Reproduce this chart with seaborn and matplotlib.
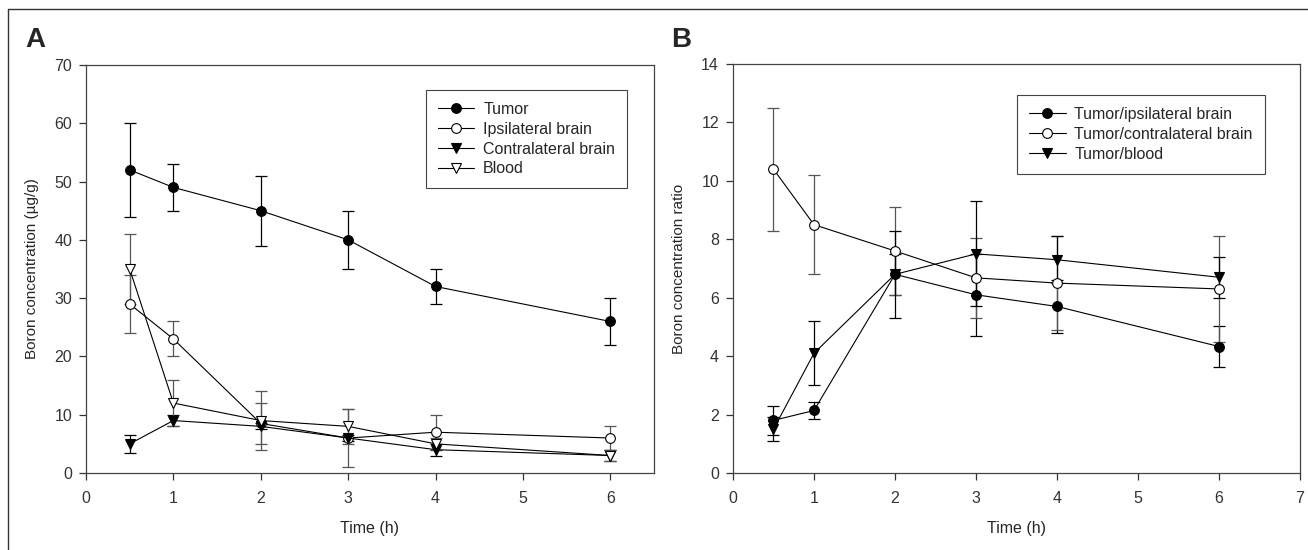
import numpy as np
import pandas as pd
import matplotlib
matplotlib.use("Agg")
import matplotlib.pyplot as plt
from matplotlib.lines import Line2D
import seaborn as sns

# ---- data ----
time_a = [0.5, 1, 2, 3, 4, 6]
tumor = [52, 49, 45, 40, 32, 26]
tumor_err = [8, 4, 6, 5, 3, 4]
ipsi = [29, 23, 8.5, 6, 7, 6]
ipsi_err = [5, 3, 3.5, 5, 3, 2]
contra = [5, 9, 8, 6, 4, 3]
contra_err = [1.5, 1, 0.5, 0.5, 1, 1]
blood = [35, 12, 9, 8, 5, 3]
blood_err = [6, 4, 5, 3, 1, 1]

time_b = [0.5, 1, 2, 3, 4, 6]
ratio_ipsi = [1.8, 2.14, 6.8, 6.1, 5.7, 4.33]
ratio_ipsi_err = [0.5, 0.3, 0.7, 1.4, 0.9, 0.7]
ratio_contra = [10.4, 8.5, 7.6, 6.68, 6.5, 6.3]
ratio_contra_err = [2.1, 1.7, 1.5, 1.38, 1.6, 1.8]
ratio_blood = [1.5, 4.1, 6.8, 7.5, 7.3, 6.7]
ratio_blood_err = [0.4, 1.1, 1.5, 1.8, 0.8, 0.7]

sns.set_style("ticks")
plt.rcParams['font.family'] = ['Liberation Sans', 'DejaVu Sans']
plt.rcParams['axes.edgecolor'] = '#444444'
plt.rcParams['axes.linewidth'] = 0.9

fig = plt.figure(figsize=(13.08, 5.5), dpi=100)
ax1 = fig.add_axes([86 / 1308, 77 / 550, 568 / 1308, 408 / 550])
ax2 = fig.add_axes([733 / 1308, 77 / 550, 567 / 1308, 409 / 550])

# marker styles: (marker, face colour, errorbar colour)
styles = {
    'filled_circle': ('o', 'black', 'black'),
    'open_circle': ('o', 'white', '#555555'),
    'filled_tri': ('v', 'black', 'black'),
    'open_tri': ('v', 'white', '#555555'),
}


def draw_series(ax, x, y, err, label, style):
    marker, face, ecol = styles[style]
    df = pd.DataFrame({'x': x, 'y': y})
    ax.errorbar(x, y, yerr=err, fmt='none', ecolor=ecol, elinewidth=0.9,
                capsize=4.5, capthick=0.9, zorder=2)
    sns.lineplot(data=df, x='x', y='y', ax=ax, color='black', lw=0.8,
                 marker=marker, markersize=7, markerfacecolor=face,
                 markeredgecolor='black', markeredgewidth=0.8,
                 label=label, zorder=3)


draw_series(ax1, time_a, tumor, tumor_err, 'Tumor', 'filled_circle')
draw_series(ax1, time_a, ipsi, ipsi_err, 'Ipsilateral brain', 'open_circle')
draw_series(ax1, time_a, contra, contra_err, 'Contralateral brain', 'filled_tri')
draw_series(ax1, time_a, blood, blood_err, 'Blood', 'open_tri')

draw_series(ax2, time_b, ratio_ipsi, ratio_ipsi_err, 'Tumor/ipsilateral brain', 'filled_circle')
draw_series(ax2, time_b, ratio_contra, ratio_contra_err, 'Tumor/contralateral brain', 'open_circle')
draw_series(ax2, time_b, ratio_blood, ratio_blood_err, 'Tumor/blood', 'filled_tri')

ax1.set_xlim(0, 6.5)
ax1.set_ylim(0, 70)
ax1.set_xticks(range(0, 7))
ax1.set_yticks(range(0, 71, 10))
ax1.set_ylabel('Boron concentration (\u00b5g/g)', fontsize=11)

ax2.set_xlim(0, 7)
ax2.set_ylim(0, 14)
ax2.set_xticks(range(0, 8))
ax2.set_yticks(range(0, 15, 2))
ax2.set_ylabel('Boron concentration ratio', fontsize=11)

for ax, anchor in ((ax1, (0.9525, 0.9387)), (ax2, (0.938, 0.924))):
    ax.set_xlabel('Time (h)', fontsize=11.5)
    ax.xaxis.set_label_coords(0.5, -0.118)
    ax.yaxis.set_label_coords(-0.083, 0.5)
    for side in ['top', 'right', 'left', 'bottom']:
        ax.spines[side].set_visible(True)
    ax.tick_params(axis='both', direction='out', length=5, width=0.9,
                   labelsize=11.5, colors='#333333', top=False, right=False)
    ax.tick_params(axis='x', pad=8)
    ax.tick_params(axis='y', pad=5)
    leg = ax.legend(loc='upper right', bbox_to_anchor=anchor, fontsize=11.5,
                    frameon=True, fancybox=False, framealpha=1,
                    edgecolor='#444444', handlelength=2.3, handletextpad=0.55,
                    labelspacing=0.3, borderpad=0.75, borderaxespad=0)
    leg.get_frame().set_linewidth(0.8)

# panel letters
fig.text(25 / 1308, 1 - 47 / 550, 'A', fontsize=20, fontweight='bold', va='baseline')
fig.text(671 / 1308, 1 - 47 / 550, 'B', fontsize=20, fontweight='bold', va='baseline')

# outer frame (top and left edge)
fig.add_artist(Line2D([8 / 1308, 1], [1 - 9 / 550, 1 - 9 / 550],
                      transform=fig.transFigure, color='#333333', lw=1))
fig.add_artist(Line2D([8 / 1308, 8 / 1308], [0, 1 - 9 / 550],
                      transform=fig.transFigure, color='#333333', lw=1))

fig.savefig('out.png', dpi=100)
